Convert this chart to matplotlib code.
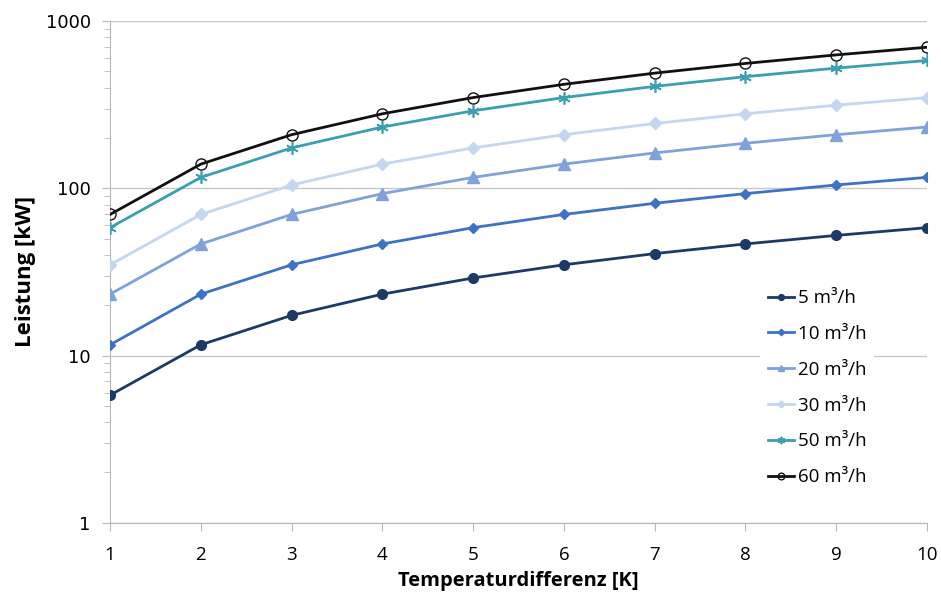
import matplotlib
matplotlib.use("Agg")
import matplotlib.pyplot as plt
from matplotlib.ticker import LogLocator, NullFormatter, FixedLocator

delta_t = [1, 2, 3, 4, 5, 6, 7, 8, 9, 10]

p_5 = [5.8, 11.6, 17.4, 23.3, 29.1, 34.9, 40.7, 46.5, 52.3, 58.2]
p_10 = [11.6, 23.3, 34.9, 46.5, 58.2, 69.8, 81.4, 93.0, 104.7, 116.3]
p_20 = [23.3, 46.5, 69.8, 93.0, 116.3, 139.6, 162.8, 186.1, 209.3, 232.6]
p_30 = [34.9, 69.8, 104.7, 139.6, 174.5, 209.3, 244.2, 279.1, 314.0, 348.9]
p_50 = [58.2, 116.3, 174.5, 232.6, 290.8, 348.9, 407.1, 465.2, 523.4, 581.5]
p_60 = [69.8, 139.6, 209.3, 279.1, 348.9, 418.7, 488.5, 558.2, 628.0, 697.8]

labels = ["5 m³/h", "10 m³/h", "20 m³/h", "30 m³/h", "50 m³/h", "60 m³/h"]
y_ticks = [1, 10, 100, 1000]

fig = plt.figure(figsize=(9.41, 6.03), dpi=100)
ax = fig.add_axes([0.117, 0.133, 0.868, 0.832])

styles = [
    (p_5, "#1b3a66", dict(marker="o", ms=7, mfc="#1b3a66", mec="#1b3a66")),
    (p_10, "#3e72c4", dict(marker="D", ms=5.5, mfc="#3e72c4", mec="#3e72c4")),
    (p_20, "#7ea2d9", dict(marker="^", ms=8, mfc="#7ea2d9", mec="#7ea2d9")),
    (p_30, "#c5d6ef", dict(marker="D", ms=6, mfc="#c5d6ef", mec="#c5d6ef")),
    (p_50, "#3aa0b0", dict(marker=(6, 2, 0), ms=9, mfc="#3aa0b0", mec="#3aa0b0", mew=1.2)),
    (p_60, "#111111", dict(marker="o", ms=8, mfc="none", mec="#111111", mew=1.0)),
]

for (vals, col, mk), lab in zip(styles, labels):
    ax.plot(delta_t, vals, color=col, lw=2.0, label=lab, **mk, zorder=3)

ax.set_yscale("log")
ax.set_ylim(1, 1000)
ax.set_xlim(1, 10)
ax.yaxis.set_major_locator(FixedLocator(y_ticks))
ax.set_yticklabels([str(v) for v in y_ticks], fontfamily="DejaVu Sans", fontsize=13)
ax.yaxis.set_minor_locator(LogLocator(base=10, subs=range(2, 10)))
ax.yaxis.set_minor_formatter(NullFormatter())
ax.set_xticks(delta_t)
ax.set_xticklabels([str(v) for v in delta_t], fontfamily="Open Sans", fontsize=13.5)

ax.grid(axis="y", which="major", color="#c8c8c8", lw=1.0, zorder=0)
for s in ["top", "right"]:
    ax.spines[s].set_visible(False)
for s in ["left", "bottom"]:
    ax.spines[s].set_color("#b8b8b8")
ax.tick_params(axis="y", which="major", length=6, color="#b8b8b8", pad=8)
ax.tick_params(axis="y", which="minor", length=4, color="#b8b8b8")
ax.tick_params(axis="x", which="major", length=6, color="#b8b8b8", pad=11)

ax.set_xlabel("Temperaturdifferenz [K]", fontfamily="Open Sans", fontsize=14.5,
              fontweight="bold", labelpad=5)
ax.set_ylabel("Leistung [kW]", fontfamily="Open Sans", fontsize=16,
              fontweight="bold", labelpad=7)

leg = ax.legend(loc="center left", bbox_to_anchor=(0.798, 0.357),
                bbox_transform=fig.transFigure, frameon=True, fancybox=False,
                prop={"family": "Open Sans", "size": 13.5}, handlelength=1.4,
                handletextpad=0.2, labelspacing=0.95, markerscale=0.6,
                borderpad=0.4)
leg.get_frame().set_facecolor("white")
leg.get_frame().set_edgecolor("none")
leg.get_frame().set_alpha(1.0)

fig.savefig("out.png", dpi=100)
